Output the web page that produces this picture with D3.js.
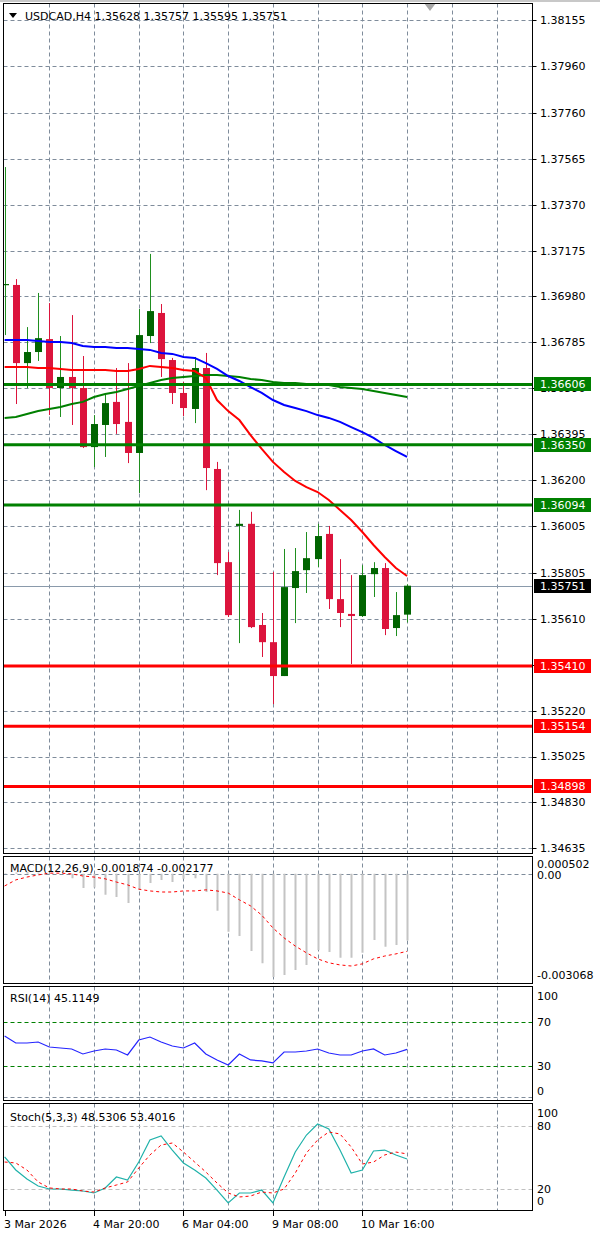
<!DOCTYPE html>
<html>
<head>
<meta charset="utf-8">
<script src="https://cdn.jsdelivr.net/npm/d3@7"></script>
<style>
body { margin:0; background:#fff; }
svg text { font-family: "DejaVu Sans", Tahoma, sans-serif; font-size: 11px; }
</style>
</head>
<body>
<div id="chart"></div>
<script>
// USDCAD H4 bars, oldest first
var opens  = [1.37029,1.37029,1.36697,1.36744,1.36799,1.36591,1.36638,1.36591,1.36340,1.36434,1.36532,1.36447,1.36315,1.36812,1.36910,1.36710,1.36570,1.36502,1.36676,1.36247,1.35851,1.36005,1.36014,1.35584,1.35511,1.35367,1.35741,1.35817,1.35864,1.35971,1.35694,1.35631,1.35622,1.35800,1.35826,1.35571,1.35628];
var highs  = [1.37530,1.37054,1.36850,1.36995,1.36952,1.36812,1.36901,1.36727,1.36476,1.36566,1.36676,1.36697,1.36927,1.37161,1.36948,1.36719,1.36617,1.36723,1.36740,1.36277,1.35894,1.36073,1.36065,1.35635,1.35809,1.35907,1.35911,1.35979,1.36014,1.36005,1.35864,1.35796,1.35838,1.35851,1.35847,1.35724,1.35757];
var lows   = [1.36816,1.36523,1.36591,1.36706,1.36476,1.36468,1.36434,1.36336,1.36255,1.36298,1.36396,1.36272,1.36145,1.36782,1.36638,1.36523,1.36472,1.36442,1.36157,1.35796,1.35618,1.35507,1.35571,1.35448,1.35248,1.35367,1.35592,1.35720,1.35830,1.35652,1.35575,1.35418,1.35618,1.35703,1.35541,1.35537,1.35595];
var closes = [1.37033,1.36697,1.36744,1.36803,1.36591,1.36638,1.36591,1.36340,1.36438,1.36527,1.36438,1.36315,1.36816,1.36918,1.36714,1.36570,1.36506,1.36676,1.36251,1.35847,1.35626,1.36014,1.35575,1.35511,1.35367,1.35745,1.35813,1.35868,1.35962,1.35694,1.35635,1.35622,1.35796,1.35826,1.35567,1.35626,1.35751];

var maRed   = [1.36680,1.36680,1.36680,1.36676,1.36676,1.36672,1.36668,1.36668,1.36668,1.36668,1.36663,1.36663,1.36672,1.36685,1.36680,1.36676,1.36668,1.36663,1.36634,1.36540,1.36493,1.36455,1.36391,1.36332,1.36277,1.36234,1.36196,1.36170,1.36149,1.36115,1.36073,1.36030,1.35979,1.35924,1.35873,1.35826,1.35792];
var maBlue  = [1.36795,1.36795,1.36795,1.36791,1.36787,1.36787,1.36782,1.36770,1.36765,1.36765,1.36761,1.36761,1.36757,1.36753,1.36740,1.36736,1.36723,1.36719,1.36697,1.36672,1.36642,1.36621,1.36595,1.36570,1.36540,1.36519,1.36506,1.36493,1.36476,1.36464,1.36447,1.36425,1.36404,1.36379,1.36349,1.36323,1.36298];
var maGreen = [1.36464,1.36468,1.36481,1.36493,1.36502,1.36510,1.36523,1.36532,1.36553,1.36566,1.36574,1.36587,1.36600,1.36612,1.36625,1.36634,1.36638,1.36642,1.36646,1.36646,1.36642,1.36638,1.36629,1.36625,1.36617,1.36612,1.36612,1.36608,1.36608,1.36604,1.36595,1.36591,1.36587,1.36578,1.36570,1.36561,1.36553];

var macdMain   = [0.00002,0.00004,0.00005,0.00004,0.00003,0.00000,-0.00012,-0.00040,-0.00038,-0.00059,-0.00065,-0.00082,-0.00045,-0.00026,-0.00017,-0.00023,-0.00014,-0.00012,-0.00051,-0.00104,-0.00163,-0.00175,-0.00217,-0.00251,-0.00290,-0.00284,-0.00270,-0.00256,-0.00214,-0.00220,-0.00236,-0.00236,-0.00222,-0.00186,-0.00205,-0.00200,-0.001874];
var macdSignal = [-0.00034,-0.00017,-0.00009,-0.00003,0.00002,0.00002,0.00000,-0.00006,-0.00009,-0.00014,-0.00023,-0.00031,-0.00043,-0.00048,-0.00051,-0.00051,-0.00048,-0.00048,-0.00045,-0.00048,-0.00054,-0.00073,-0.00090,-0.00116,-0.00152,-0.00180,-0.00203,-0.00222,-0.00239,-0.00250,-0.00256,-0.00259,-0.00253,-0.00239,-0.00231,-0.00225,-0.002177];

var rsiVals = [57.1,50.8,50.8,51.7,47.2,46.3,45.4,40.9,43.6,45.4,44.5,40.0,53.5,56.2,51.7,48.1,46.3,50.8,40.9,35.5,31.0,40.9,35.5,34.6,32.8,42.7,42.7,43.6,45.4,41.8,40.0,40.0,43.6,45.4,40.0,41.8,45.1149];

var stochMain   = [50.5,38.1,29.5,22.9,20.0,20.0,19.0,18.1,16.2,21.0,31.4,28.6,45.7,66.7,70.5,57.1,44.8,38.1,30.5,19.0,6.7,16.2,16.2,19.0,6.7,31.4,55.2,71.4,81.9,77.1,57.1,35.2,38.1,56.2,57.1,52.4,48.5306];
var stochSignal = [45.7,44.8,38.1,26.7,21.0,20.0,20.0,18.1,17.1,21.0,23.8,26.7,40.0,52.4,61.9,63.8,55.2,45.7,36.2,25.7,16.2,12.4,13.3,17.1,16.2,20.0,35.2,54.3,66.7,74.3,72.4,60.0,43.8,45.7,52.4,55.2,53.4016];

var priceTicks = [1.38155,1.37960,1.37760,1.37565,1.37370,1.37175,1.36980,1.36785,1.36590,1.36395,1.36200,1.36005,1.35805,1.35610,1.35415,1.35220,1.35025,1.34830,1.34635];
var greenLevels = [1.36606,1.36350,1.36094];
var redLevels = [1.35410,1.35154,1.34898];
var bidPrice = 1.35751;
var macdTicks = [0.000502, 0, -0.003068];
var macdTickLabels = ["0.000502","0.00","-0.003068"];
var rsiTicks = [100,70,30,0];
var stochTicks = [100,80,20,0];
var timeTicks = [0,8,16,24,32];
var timeLabels = ["3 Mar 2026","4 Mar 20:00","6 Mar 04:00","9 Mar 08:00","10 Mar 16:00"];

var wid = 600, heig = 1233;
var left = 3.5, right = 532.5;
var gridCol = "#7f8c9b";

var svg = d3.select("#chart").append("svg:svg")
		.attr("width", wid)
		.attr("height", heig);

// top frame strip
svg.append("svg:rect").attr("x",0).attr("y",0).attr("width",wid).attr("height",2).attr("fill","#c8c8c8");

var panels = {
	main:  {top: 3.5,    bottom: 853.5},
	macd:  {top: 856.5,  bottom: 983.5},
	rsi:   {top: 986.5,  bottom: 1100.5},
	stoch: {top: 1103.5, bottom: 1210.5}
};

var x = d3.scaleLinear().domain([0, 44]).range([4.6, 496.5]);
var px = function(i) { return Math.round(x(i)); };

var yPrice = d3.scaleLinear().domain([1.38155, 1.34635]).range([20, 848.3]);
var yMacd  = d3.scaleLinear().domain([0.000502, -0.003068]).range([856, 983]);
var yRsi   = d3.scaleLinear().domain([100, 0]).range([988.5, 1099.3]);
var yStoch = d3.scaleLinear().domain([100, 0]).range([1105, 1210]);

var defs = svg.append("svg:defs");
var layers = {};
Object.keys(panels).forEach(function(k) {
	var p = panels[k];
	defs.append("svg:clipPath").attr("id", "clip-" + k)
		.append("svg:rect")
		.attr("x", left).attr("y", p.top)
		.attr("width", right - left).attr("height", p.bottom - p.top);
	svg.append("svg:rect")
		.attr("x", left).attr("y", p.top)
		.attr("width", right - left).attr("height", p.bottom - p.top)
		.attr("fill", "#fff");
	layers[k] = svg.append("svg:g").attr("clip-path", "url(#clip-" + k + ")");
	//vertical dashed grid
	layers[k].selectAll("line.vgrid").data(d3.range(4, 48, 4)).enter()
		.append("svg:line")
		.attr("class", "vgrid")
		.attr("x1", function(d) { return px(d) + 0.5; })
		.attr("x2", function(d) { return px(d) + 0.5; })
		.attr("y1", p.top).attr("y2", p.bottom)
		.attr("stroke", gridCol)
		.attr("stroke-dasharray", "4,3");
});

/* ---------- main price panel ---------- */
var main = layers.main;

main.selectAll("line.hgrid").data(priceTicks).enter()
	.append("svg:line")
	.attr("class", "hgrid")
	.attr("x1", left).attr("x2", right)
	.attr("y1", function(d) { return Math.round(yPrice(d)) + 0.5; })
	.attr("y2", function(d) { return Math.round(yPrice(d)) + 0.5; })
	.attr("stroke", gridCol)
	.attr("stroke-dasharray", "4,3");

// bid line
main.append("svg:line")
	.attr("x1", left).attr("x2", right)
	.attr("y1", Math.round(yPrice(bidPrice)) + 0.5)
	.attr("y2", Math.round(yPrice(bidPrice)) + 0.5)
	.attr("stroke", "#8a9aab");

var bars = d3.range(closes.length);
var candle = main.selectAll("g.candle").data(bars).enter()
	.append("svg:g").attr("class", "candle");

candle.append("svg:line")
	.attr("x1", function(i) { return px(i) + 0.5; })
	.attr("x2", function(i) { return px(i) + 0.5; })
	.attr("y1", function(i) { return yPrice(highs[i]); })
	.attr("y2", function(i) { return yPrice(lows[i]); })
	.attr("stroke", function(i) { return closes[i] >= opens[i] ? "#1f8f1f" : "#dc143c"; });

candle.append("svg:rect")
	.attr("x", function(i) { return px(i) - 3; })
	.attr("width", 7)
	.attr("y", function(i) { return yPrice(Math.max(opens[i], closes[i])); })
	.attr("height", function(i) { return Math.max(1.2, yPrice(Math.min(opens[i], closes[i])) - yPrice(Math.max(opens[i], closes[i]))); })
	.attr("fill", function(i) { return closes[i] >= opens[i] ? "#006400" : "#dc143c"; });

var maLine = d3.line()
	.x(function(d, i) { return x(i); })
	.y(function(d) { return yPrice(d); });

main.append("svg:path").attr("d", maLine(maGreen)).attr("fill", "none").attr("stroke", "#008000").attr("stroke-width", 2);
main.append("svg:path").attr("d", maLine(maBlue)).attr("fill", "none").attr("stroke", "#0000ff").attr("stroke-width", 2);
main.append("svg:path").attr("d", maLine(maRed)).attr("fill", "none").attr("stroke", "#ff0000").attr("stroke-width", 2);

// support / resistance lines
main.selectAll("line.lvlG").data(greenLevels).enter()
	.append("svg:line")
	.attr("x1", left).attr("x2", right)
	.attr("y1", function(d) { return yPrice(d); })
	.attr("y2", function(d) { return yPrice(d); })
	.attr("stroke", "#008000").attr("stroke-width", 3);
main.selectAll("line.lvlR").data(redLevels).enter()
	.append("svg:line")
	.attr("x1", left).attr("x2", right)
	.attr("y1", function(d) { return yPrice(d); })
	.attr("y2", function(d) { return yPrice(d); })
	.attr("stroke", "#ff0000").attr("stroke-width", 3);

// title
main.append("svg:path")
	.attr("d", "M9,13 L17,13 L13,18 Z")
	.attr("fill", "#000");
main.append("svg:text")
	.attr("x", 25).attr("y", 16).attr("dy", "0.35em")
	.text("USDCAD,H4  1.35628 1.35757 1.35595 1.35751");

// shift marker
svg.append("svg:path").attr("d", "M424,3 L436,3 L430,11 Z").attr("fill", "#a8a8a8");

/* ---------- right price scale ---------- */
svg.selectAll("line.ptick").data(priceTicks).enter()
	.append("svg:line")
	.attr("x1", right).attr("x2", right + 4)
	.attr("y1", function(d) { return Math.round(yPrice(d)) + 0.5; })
	.attr("y2", function(d) { return Math.round(yPrice(d)) + 0.5; })
	.attr("stroke", "#000");
svg.selectAll("text.ptick").data(priceTicks).enter()
	.append("svg:text")
	.attr("x", 540)
	.attr("y", function(d) { return yPrice(d); })
	.attr("dy", "0.36em")
	.text(function(d) { return d.toFixed(5); });

function priceBox(v, col) {
	var y = yPrice(v);
	svg.append("svg:rect").attr("x", 534).attr("y", Math.round(y) - 7).attr("width", 57).attr("height", 14).attr("fill", col);
	svg.append("svg:text").attr("x", 540).attr("y", y).attr("dy", "0.36em").attr("fill", "#fff").text(v.toFixed(5));
}
greenLevels.forEach(function(v) { priceBox(v, "#008000"); });
redLevels.forEach(function(v) { priceBox(v, "#ff0000"); });
priceBox(bidPrice, "#000");

/* ---------- MACD ---------- */
var macd = layers.macd;
macd.append("svg:line")
	.attr("x1", left).attr("x2", right)
	.attr("y1", Math.round(yMacd(0)) + 0.5).attr("y2", Math.round(yMacd(0)) + 0.5)
	.attr("stroke", gridCol).attr("stroke-dasharray", "4,3");
macd.selectAll("line.hist").data(macdMain).enter()
	.append("svg:line")
	.attr("x1", function(d, i) { return px(i) + 0.5; })
	.attr("x2", function(d, i) { return px(i) + 0.5; })
	.attr("y1", yMacd(0))
	.attr("y2", function(d) { return yMacd(d); })
	.attr("stroke", "#c4c4c4").attr("stroke-width", 2);
macd.append("svg:path")
	.attr("d", d3.line().x(function(d, i) { return x(i); }).y(function(d) { return yMacd(d); })(macdSignal))
	.attr("fill", "none").attr("stroke", "#ff0000").attr("stroke-dasharray", "3,3");
macd.append("svg:text").attr("x", 10).attr("y", 868).attr("dy", "0.35em")
	.text("MACD(12,26,9) -0.001874 -0.002177");

var macdOff = [8, 1, -8];
svg.selectAll("text.mtick").data(macdTicks).enter()
	.append("svg:text")
	.attr("x", 537)
	.attr("y", function(d, i) { return yMacd(d) + macdOff[i]; })
	.attr("dy", "0.36em")
	.text(function(d, i) { return macdTickLabels[i]; });

/* ---------- RSI ---------- */
var rsi = layers.rsi;
rsi.append("svg:line")
	.attr("x1", left).attr("x2", right)
	.attr("y1", Math.round(yRsi(0)) - 1.5).attr("y2", Math.round(yRsi(0)) - 1.5)
	.attr("stroke", gridCol).attr("stroke-dasharray", "4,3");
rsi.selectAll("line.lvl").data([70, 30]).enter()
	.append("svg:line")
	.attr("x1", left).attr("x2", right)
	.attr("y1", function(d) { return Math.round(yRsi(d)) + 0.5; })
	.attr("y2", function(d) { return Math.round(yRsi(d)) + 0.5; })
	.attr("stroke", "#008000").attr("stroke-dasharray", "4,3");
rsi.append("svg:path")
	.attr("d", d3.line().x(function(d, i) { return x(i); }).y(function(d) { return yRsi(d); })(rsiVals))
	.attr("fill", "none").attr("stroke", "#2424ff").attr("stroke-width", 1.2);
rsi.append("svg:text").attr("x", 10).attr("y", 998).attr("dy", "0.35em").text("RSI(14) 45.1149");

var rsiOff = [7.5, 0, 0, -8];
svg.selectAll("text.rtick").data(rsiTicks).enter()
	.append("svg:text")
	.attr("x", 537)
	.attr("y", function(d, i) { return yRsi(d) + rsiOff[i]; })
	.attr("dy", "0.36em")
	.text(function(d) { return d; });

/* ---------- Stochastic ---------- */
var stoch = layers.stoch;
stoch.selectAll("line.lvl").data([80, 20]).enter()
	.append("svg:line")
	.attr("x1", left).attr("x2", right)
	.attr("y1", function(d) { return Math.round(yStoch(d)) + 0.5; })
	.attr("y2", function(d) { return Math.round(yStoch(d)) + 0.5; })
	.attr("stroke", "#c0c0c0").attr("stroke-dasharray", "4,3");
stoch.append("svg:path")
	.attr("d", d3.line().x(function(d, i) { return x(i); }).y(function(d) { return yStoch(d); })(stochMain))
	.attr("fill", "none").attr("stroke", "#20b2aa").attr("stroke-width", 1.2);
stoch.append("svg:path")
	.attr("d", d3.line().x(function(d, i) { return x(i); }).y(function(d) { return yStoch(d); })(stochSignal))
	.attr("fill", "none").attr("stroke", "#ff0000").attr("stroke-dasharray", "3,3");
stoch.append("svg:text").attr("x", 10).attr("y", 1117).attr("dy", "0.35em").text("Stoch(5,3,3) 48.5306 53.4016");

var stochOff = [8, 0, 0, -9];
svg.selectAll("text.stick").data(stochTicks).enter()
	.append("svg:text")
	.attr("x", 537)
	.attr("y", function(d, i) { return yStoch(d) + stochOff[i]; })
	.attr("dy", "0.36em")
	.text(function(d) { return d; });

/* ---------- panel frames ---------- */
Object.keys(panels).forEach(function(k) {
	var p = panels[k];
	svg.append("svg:rect")
		.attr("x", left).attr("y", p.top)
		.attr("width", right - left).attr("height", p.bottom - p.top)
		.attr("fill", "none").attr("stroke", "#000");
});

/* ---------- time axis ---------- */
svg.selectAll("line.ttick").data(timeTicks).enter()
	.append("svg:line")
	.attr("x1", function(d) { return px(d) + 0.5; })
	.attr("x2", function(d) { return px(d) + 0.5; })
	.attr("y1", 1211).attr("y2", 1216)
	.attr("stroke", "#000");
svg.selectAll("text.ttick").data(timeTicks).enter()
	.append("svg:text")
	.attr("x", function(d) { return Math.max(4, px(d) - 1); })
	.attr("y", 1224).attr("dy", "0.35em")
	.text(function(d, i) { return timeLabels[i]; });
</script>
</body>
</html>
